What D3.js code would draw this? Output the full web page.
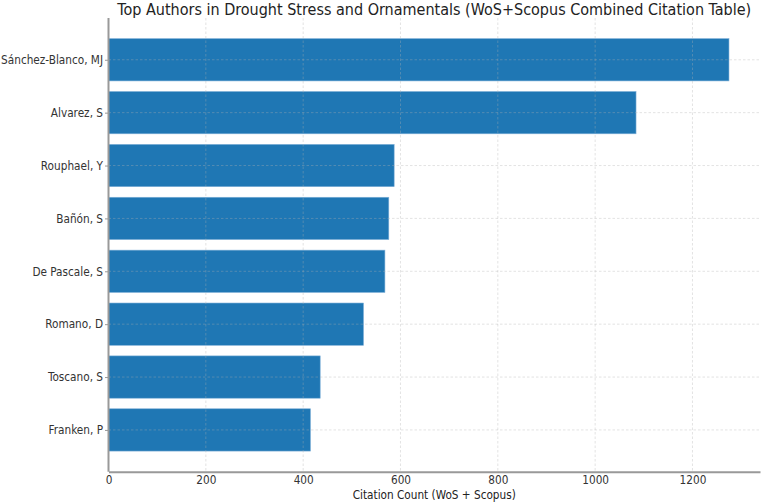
<!DOCTYPE html>
<html>
<head>
<meta charset="utf-8">
<script src="https://cdn.jsdelivr.net/npm/d3@7"></script>
<style>
body { margin: 0; background: #fff; }
text { font-family: "DejaVu Sans Condensed", "DejaVu Sans", sans-serif; font-stretch: condensed; }
</style>
</head>
<body>
<div id="chart"></div>
<script>
// data
var authors = ["Sánchez-Blanco, MJ", "Alvarez, S", "Rouphael, Y", "Bañón, S", "De Pascale, S", "Romano, D", "Toscano, S", "Franken, P"];
var citations = [1275, 1084, 587, 576, 568, 524, 435, 415];
var xTicks = [0, 200, 400, 600, 800, 1000, 1200];

var width = 763, height = 502;
var margin = {top: 18, right: 3, bottom: 30.3, left: 108.5};

var svg = d3.select("#chart").append("svg")
	.attr("width", width)
	.attr("height", height);

var innerW = width - margin.left - margin.right;
var innerH = height - margin.top - margin.bottom;

var g = svg.append("g").attr("transform", "translate(" + margin.left + "," + margin.top + ")");

var x = d3.scaleLinear()
	.domain([0, d3.max(citations) * 1.05])
	.range([0, innerW]);

// matplotlib style band: bar height 0.8, 0.05 margin
var n = authors.length;
var y = d3.scaleLinear()
	.domain([-0.4 - 0.39, n - 1 + 0.4 + 0.39])
	.range([0, innerH]);

var bandH = y(0.4) - y(-0.4);

// bars
g.selectAll("rect.bar")
	.data(citations)
	.enter()
	.append("rect")
	.attr("class", "bar")
	.attr("x", 0)
	.attr("y", (d, i) => y(i) - bandH / 2)
	.attr("width", d => x(d))
	.attr("height", bandH)
	.style("fill", "#1f77b4")
	.style("stroke", "#7fb0d8")
	.style("stroke-width", 0.6);

// grid (on top of bars)
g.selectAll("line.vgrid")
	.data(xTicks)
	.enter()
	.append("line")
	.attr("x1", d => x(d)).attr("x2", d => x(d))
	.attr("y1", 0).attr("y2", innerH)
	.style("stroke", "#b0b0b0")
	.style("stroke-opacity", 0.45)
	.style("stroke-dasharray", "2.5,2")
	.style("stroke-width", 0.8);

g.selectAll("line.hgrid")
	.data(authors)
	.enter()
	.append("line")
	.attr("x1", 0).attr("x2", innerW)
	.attr("y1", (d, i) => y(i)).attr("y2", (d, i) => y(i))
	.style("stroke", "#b0b0b0")
	.style("stroke-opacity", 0.45)
	.style("stroke-dasharray", "2.5,2")
	.style("stroke-width", 0.8);

// x axis
var xAxis = g.append("g")
	.attr("transform", "translate(0," + innerH + ")")
	.call(d3.axisBottom(x).tickValues(xTicks).tickFormat(d3.format("d")).tickSize(0).tickPadding(4));
xAxis.select(".domain").style("stroke", "#999").style("stroke-width", 2);
xAxis.selectAll(".tick text").style("font-size", "11.7px").style("fill", "#333");

// y axis
var yAxis = g.append("g")
	.call(d3.axisLeft(y).tickValues(d3.range(n)).tickFormat(i => authors[i]).tickSize(3.5).tickPadding(2));
yAxis.select(".domain").attr("d", "M0,0V" + innerH).style("stroke", "#999").style("stroke-width", 2);
yAxis.selectAll(".tick line").style("stroke", "#999");
yAxis.selectAll(".tick text").style("font-size", "11.7px").style("fill", "#333");

// title
svg.append("text")
	.attr("x", margin.left + innerW / 2)
	.attr("y", 15)
	.attr("text-anchor", "middle")
	.style("font-size", "16px")
	.style("fill", "#222")
	.text("Top Authors in Drought Stress and Ornamentals (WoS+Scopus Combined Citation Table)");

// x label
svg.append("text")
	.attr("x", margin.left + innerW / 2)
	.attr("y", height - 3.5)
	.attr("text-anchor", "middle")
	.style("font-size", "11.7px")
	.style("fill", "#222")
	.text("Citation Count (WoS + Scopus)");
</script>
</body>
</html>
